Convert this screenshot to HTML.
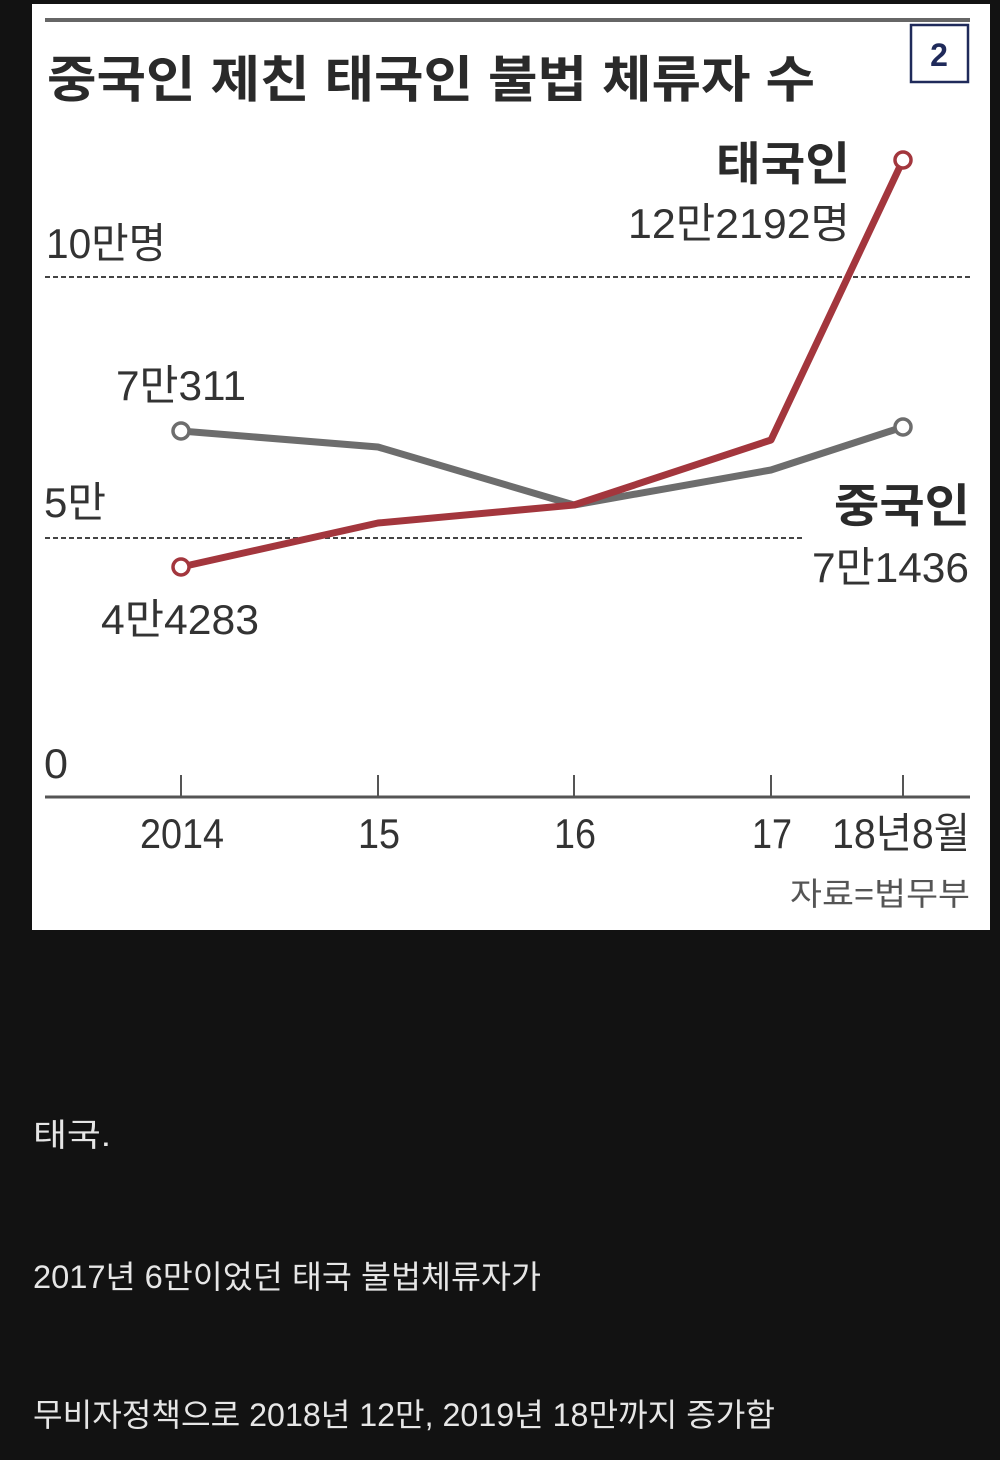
<!DOCTYPE html>
<html><head><meta charset="utf-8"><style>
html,body{margin:0;padding:0;background:#121212;}
svg{display:block;}
text{font-family:"Liberation Sans","Noto Sans CJK KR",sans-serif;}
</style></head><body>
<svg width="1000" height="1460" viewBox="0 0 1000 1460" xmlns="http://www.w3.org/2000/svg">
<rect x="0" y="0" width="1000" height="1460" fill="#121212"/>
<rect x="32" y="4" width="958" height="926" fill="#ffffff"/>
<line x1="45" y1="20" x2="970" y2="20" stroke="#666" stroke-width="4"/>
<rect x="911" y="25" width="57" height="57" fill="#fff" stroke="#1f2a5a" stroke-width="2.5"/>
<text x="939" y="66" font-size="32" font-weight="bold" fill="#1f2a5a" text-anchor="middle">2</text>
<text x="47" y="97" font-size="50" font-weight="bold" fill="#2a2a2a" textLength="768" lengthAdjust="spacingAndGlyphs">중국인 제친 태국인 불법 체류자 수</text>
<line x1="45" y1="277" x2="970" y2="277" stroke="#444" stroke-width="2" stroke-dasharray="5,3"/>
<line x1="45" y1="538" x2="802" y2="538" stroke="#444" stroke-width="2" stroke-dasharray="5,3"/>
<line x1="45" y1="797" x2="970" y2="797" stroke="#555" stroke-width="3"/>
<g stroke="#555" stroke-width="2">
<line x1="181" y1="775" x2="181" y2="797"/><line x1="378" y1="775" x2="378" y2="797"/><line x1="574" y1="775" x2="574" y2="797"/><line x1="771" y1="775" x2="771" y2="797"/><line x1="903" y1="775" x2="903" y2="797"/>
</g>
<g font-size="42" fill="#333">
<text x="46" y="258" textLength="120" lengthAdjust="spacingAndGlyphs">10만명</text>
<text x="44" y="517" textLength="62" lengthAdjust="spacingAndGlyphs">5만</text>
<text x="44" y="778" textLength="24" lengthAdjust="spacingAndGlyphs">0</text>
<text x="116" y="400" textLength="130" lengthAdjust="spacingAndGlyphs">7만311</text>
<text x="101" y="634" textLength="158" lengthAdjust="spacingAndGlyphs">4만4283</text>
<text x="628" y="238" textLength="222" lengthAdjust="spacingAndGlyphs">12만2192명</text>
<text x="812" y="582" textLength="157" lengthAdjust="spacingAndGlyphs">7만1436</text>
<text x="140" y="848" textLength="84" lengthAdjust="spacingAndGlyphs">2014</text>
<text x="358" y="848" textLength="42" lengthAdjust="spacingAndGlyphs">15</text>
<text x="554" y="848" textLength="42" lengthAdjust="spacingAndGlyphs">16</text>
<text x="752" y="848" textLength="40" lengthAdjust="spacingAndGlyphs">17</text>
<text x="832" y="848" textLength="138" lengthAdjust="spacingAndGlyphs">18년8월</text>
</g>
<text x="790" y="905" font-size="32" fill="#555" textLength="180" lengthAdjust="spacingAndGlyphs">자료=법무부</text>
<text x="716" y="180" font-size="46" font-weight="bold" fill="#2a2a2a" textLength="134" lengthAdjust="spacingAndGlyphs">태국인</text>
<text x="834" y="522" font-size="46" font-weight="bold" fill="#2a2a2a" textLength="136" lengthAdjust="spacingAndGlyphs">중국인</text>
<polyline points="181,431 378,447 574,505 771,470 903,427" fill="none" stroke="#6d6d6d" stroke-width="7" stroke-linejoin="round"/>
<polyline points="181,567 378,523 574,505 771,440 903,160" fill="none" stroke="#a3363d" stroke-width="7" stroke-linejoin="round"/>
<circle cx="181" cy="431" r="8" fill="#fff" stroke="#6d6d6d" stroke-width="3.5"/>
<circle cx="903" cy="427" r="8" fill="#fff" stroke="#6d6d6d" stroke-width="3.5"/>
<circle cx="181" cy="567" r="8" fill="#fff" stroke="#a3363d" stroke-width="3.5"/>
<circle cx="903" cy="160" r="8" fill="#fff" stroke="#a3363d" stroke-width="3.5"/>
<g font-size="32" fill="#e6e6e6">
<text x="33" y="1146" textLength="78" lengthAdjust="spacingAndGlyphs">태국.</text>
<text x="33" y="1288" textLength="508" lengthAdjust="spacingAndGlyphs">2017년 6만이었던 태국 불법체류자가</text>
<text x="33" y="1426" textLength="742" lengthAdjust="spacingAndGlyphs">무비자정책으로 2018년 12만, 2019년 18만까지 증가함</text>
</g>
</svg>
</body></html>
